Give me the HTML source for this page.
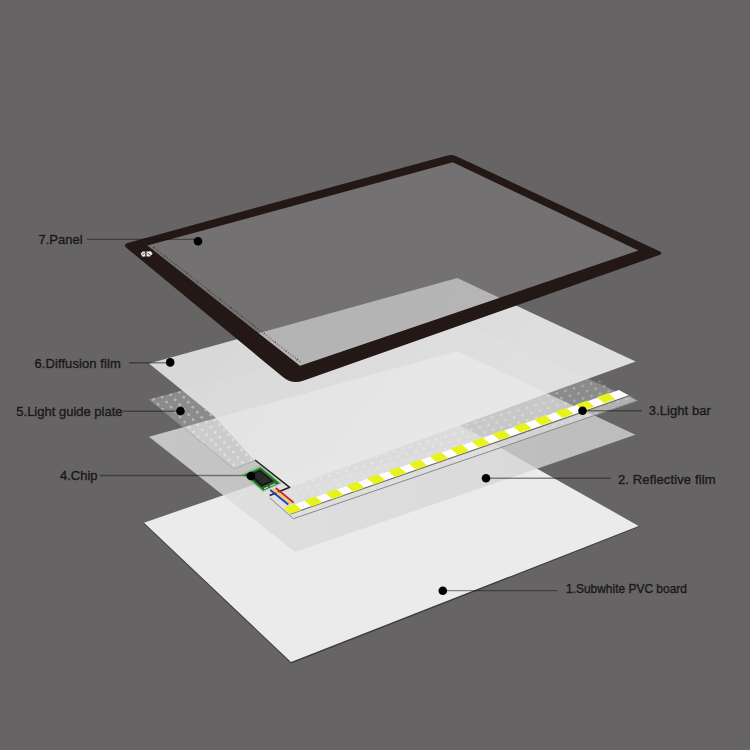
<!DOCTYPE html>
<html><head><meta charset="utf-8">
<style>
html,body{margin:0;padding:0;background:#666465;}
body{width:750px;height:750px;overflow:hidden;font-family:"Liberation Sans",sans-serif;}
svg{display:block}
text{font-family:"Liberation Sans",sans-serif;font-size:13px;fill:#1a1818;stroke:#1a1818;stroke-width:0.45px;stroke-opacity:0.8;}
</style></head><body>
<svg width="750" height="750" viewBox="0 0 750 750">
<defs>
<clipPath id="lgclip"><polygon points="149.3,399.3 182,390.4 215,417 254.7,460.7 234,468.8"/><polygon points="289.7,487.3 595.2,378.5 637.3,400.7 293.5,518.7 269.7,497.8"/></clipPath>
<linearGradient id="dfg" x1="200" y1="300" x2="450" y2="480" gradientUnits="userSpaceOnUse">
<stop offset="0" stop-color="#dcdcdc"/><stop offset="1" stop-color="#e3e3e3"/></linearGradient>
<clipPath id="dfclip"><polygon points="149,363.6 457.3,278 635.7,361.5 290,487 254.7,460.7 215,417"/></clipPath>
<linearGradient id="rfg" x1="150" y1="0" x2="636" y2="0" gradientUnits="userSpaceOnUse"><stop offset="0" stop-color="#dedede"/><stop offset="1" stop-color="#d3d3d3"/></linearGradient>
<filter id="b1" x="0" y="0" width="750" height="750" filterUnits="userSpaceOnUse"><feGaussianBlur stdDeviation="0.7"/></filter>
</defs>
<rect width="750" height="750" fill="#666465"/>

<!-- 1 PVC board -->
<polygon points="143.6,523.6 447,418.8 640,526.6 291.2,663.6" fill="#3e3c3d"/>
<polygon points="144,522.7 447,417.8 638.8,526 291,662" fill="#ebebeb"/>

<!-- 2 reflective film -->
<polygon points="149,436.7 457,351 635.4,434.8 295,552" fill="url(#rfg)" fill-opacity="0.8"/>

<!-- 5 light guide plate -->
<g>
<polygon points="149.3,399.3 452,318 637.3,400.7 293.5,518.7 269.7,497.8 289.7,487.3 255,460 234,468.8" fill="#dadada" fill-opacity="0.33"/>
<!--dots--><g clip-path="url(#lgclip)" filter="url(#b1)" fill="#fff"><g fill-opacity="0.36"><circle cx="153.5" cy="399.5" r="1.45"/><circle cx="158.0" cy="404.5" r="1.45"/><circle cx="162.5" cy="409.5" r="1.45"/><circle cx="162.1" cy="397.1" r="1.45"/><circle cx="166.6" cy="402.1" r="1.45"/><circle cx="171.1" cy="407.1" r="1.45"/><circle cx="175.6" cy="412.1" r="1.45"/><circle cx="180.1" cy="417.1" r="1.45"/><circle cx="184.6" cy="422.1" r="1.45"/><circle cx="189.1" cy="427.1" r="1.45"/><circle cx="193.6" cy="432.1" r="1.45"/><circle cx="198.1" cy="437.1" r="1.45"/><circle cx="202.6" cy="442.1" r="1.45"/><circle cx="207.1" cy="447.1" r="1.45"/><circle cx="170.7" cy="394.7" r="1.45"/><circle cx="175.2" cy="399.7" r="1.45"/><circle cx="179.7" cy="404.7" r="1.45"/><circle cx="184.2" cy="409.7" r="1.45"/><circle cx="188.7" cy="414.7" r="1.45"/><circle cx="193.2" cy="419.7" r="1.45"/><circle cx="197.7" cy="424.7" r="1.45"/><circle cx="202.2" cy="429.7" r="1.45"/><circle cx="206.7" cy="434.7" r="1.45"/><circle cx="211.2" cy="439.7" r="1.45"/><circle cx="215.7" cy="444.7" r="1.45"/><circle cx="220.2" cy="449.7" r="1.45"/><circle cx="224.7" cy="454.7" r="1.45"/><circle cx="229.2" cy="459.7" r="1.45"/><circle cx="233.7" cy="464.7" r="1.45"/><circle cx="179.3" cy="392.3" r="1.45"/><circle cx="183.8" cy="397.3" r="1.45"/><circle cx="188.3" cy="402.3" r="1.45"/><circle cx="192.8" cy="407.3" r="1.45"/><circle cx="197.3" cy="412.3" r="1.45"/><circle cx="201.8" cy="417.3" r="1.45"/><circle cx="206.3" cy="422.3" r="1.45"/><circle cx="210.8" cy="427.3" r="1.45"/><circle cx="215.3" cy="432.3" r="1.45"/><circle cx="219.8" cy="437.3" r="1.45"/><circle cx="224.3" cy="442.3" r="1.45"/><circle cx="228.8" cy="447.3" r="1.45"/><circle cx="233.3" cy="452.3" r="1.45"/><circle cx="237.8" cy="457.3" r="1.45"/><circle cx="242.3" cy="462.3" r="1.45"/><circle cx="205.9" cy="409.9" r="1.45"/><circle cx="210.4" cy="414.9" r="1.45"/><circle cx="214.9" cy="419.9" r="1.45"/><circle cx="219.4" cy="424.9" r="1.45"/><circle cx="223.9" cy="429.9" r="1.45"/><circle cx="228.4" cy="434.9" r="1.45"/><circle cx="232.9" cy="439.9" r="1.45"/><circle cx="237.4" cy="444.9" r="1.45"/><circle cx="241.9" cy="449.9" r="1.45"/><circle cx="246.4" cy="454.9" r="1.45"/><circle cx="250.9" cy="459.9" r="1.45"/></g><g fill-opacity="0.26"><circle cx="273.8" cy="497.3" r="1.45"/><circle cx="278.3" cy="502.3" r="1.45"/><circle cx="282.8" cy="507.3" r="1.45"/><circle cx="287.3" cy="512.3" r="1.45"/><circle cx="291.8" cy="517.3" r="1.45"/><circle cx="282.4" cy="494.9" r="1.45"/><circle cx="286.9" cy="499.9" r="1.45"/><circle cx="291.4" cy="504.9" r="1.45"/><circle cx="295.9" cy="509.9" r="1.45"/><circle cx="300.4" cy="514.9" r="1.45"/><circle cx="291.0" cy="492.5" r="1.45"/><circle cx="295.5" cy="497.5" r="1.45"/><circle cx="300.0" cy="502.5" r="1.45"/><circle cx="304.5" cy="507.5" r="1.45"/><circle cx="309.0" cy="512.5" r="1.45"/><circle cx="295.1" cy="485.1" r="1.45"/><circle cx="299.6" cy="490.1" r="1.45"/><circle cx="304.1" cy="495.1" r="1.45"/><circle cx="308.6" cy="500.1" r="1.45"/><circle cx="313.1" cy="505.1" r="1.45"/><circle cx="317.6" cy="510.1" r="1.45"/><circle cx="303.7" cy="482.7" r="1.45"/><circle cx="308.2" cy="487.7" r="1.45"/><circle cx="312.7" cy="492.7" r="1.45"/><circle cx="317.2" cy="497.7" r="1.45"/><circle cx="321.7" cy="502.7" r="1.45"/><circle cx="326.2" cy="507.7" r="1.45"/><circle cx="312.3" cy="480.3" r="1.45"/><circle cx="316.8" cy="485.3" r="1.45"/><circle cx="321.3" cy="490.3" r="1.45"/><circle cx="325.8" cy="495.3" r="1.45"/><circle cx="330.3" cy="500.3" r="1.45"/><circle cx="334.8" cy="505.3" r="1.45"/><circle cx="320.9" cy="477.9" r="1.45"/><circle cx="325.4" cy="482.9" r="1.45"/><circle cx="329.9" cy="487.9" r="1.45"/><circle cx="334.4" cy="492.9" r="1.45"/><circle cx="338.9" cy="497.9" r="1.45"/><circle cx="329.5" cy="475.5" r="1.45"/><circle cx="334.0" cy="480.5" r="1.45"/><circle cx="338.5" cy="485.5" r="1.45"/><circle cx="343.0" cy="490.5" r="1.45"/><circle cx="347.5" cy="495.5" r="1.45"/><circle cx="338.1" cy="473.1" r="1.45"/><circle cx="342.6" cy="478.1" r="1.45"/><circle cx="347.1" cy="483.1" r="1.45"/><circle cx="351.6" cy="488.1" r="1.45"/><circle cx="356.1" cy="493.1" r="1.45"/><circle cx="346.7" cy="470.7" r="1.45"/><circle cx="351.2" cy="475.7" r="1.45"/><circle cx="355.7" cy="480.7" r="1.45"/><circle cx="360.2" cy="485.7" r="1.45"/><circle cx="364.7" cy="490.7" r="1.45"/><circle cx="355.3" cy="468.3" r="1.45"/><circle cx="359.8" cy="473.3" r="1.45"/><circle cx="364.3" cy="478.3" r="1.45"/><circle cx="368.8" cy="483.3" r="1.45"/><circle cx="373.3" cy="488.3" r="1.45"/><circle cx="363.9" cy="465.9" r="1.45"/><circle cx="368.4" cy="470.9" r="1.45"/><circle cx="372.9" cy="475.9" r="1.45"/><circle cx="377.4" cy="480.9" r="1.45"/><circle cx="381.9" cy="485.9" r="1.45"/><circle cx="372.5" cy="463.5" r="1.45"/><circle cx="377.0" cy="468.5" r="1.45"/><circle cx="381.5" cy="473.5" r="1.45"/><circle cx="386.0" cy="478.5" r="1.45"/><circle cx="390.5" cy="483.5" r="1.45"/><circle cx="376.6" cy="456.1" r="1.45"/><circle cx="381.1" cy="461.1" r="1.45"/><circle cx="385.6" cy="466.1" r="1.45"/><circle cx="390.1" cy="471.1" r="1.45"/><circle cx="394.6" cy="476.1" r="1.45"/><circle cx="399.1" cy="481.1" r="1.45"/><circle cx="385.2" cy="453.7" r="1.45"/><circle cx="389.7" cy="458.7" r="1.45"/><circle cx="394.2" cy="463.7" r="1.45"/><circle cx="398.7" cy="468.7" r="1.45"/><circle cx="403.2" cy="473.7" r="1.45"/><circle cx="407.7" cy="478.7" r="1.45"/><circle cx="393.8" cy="451.3" r="1.45"/><circle cx="398.3" cy="456.3" r="1.45"/><circle cx="402.8" cy="461.3" r="1.45"/><circle cx="407.3" cy="466.3" r="1.45"/><circle cx="411.8" cy="471.3" r="1.45"/><circle cx="416.3" cy="476.3" r="1.45"/><circle cx="402.4" cy="448.9" r="1.45"/><circle cx="406.9" cy="453.9" r="1.45"/><circle cx="411.4" cy="458.9" r="1.45"/><circle cx="415.9" cy="463.9" r="1.45"/><circle cx="420.4" cy="468.9" r="1.45"/><circle cx="424.9" cy="473.9" r="1.45"/><circle cx="411.0" cy="446.5" r="1.45"/><circle cx="415.5" cy="451.5" r="1.45"/><circle cx="420.0" cy="456.5" r="1.45"/><circle cx="424.5" cy="461.5" r="1.45"/><circle cx="429.0" cy="466.5" r="1.45"/><circle cx="433.5" cy="471.5" r="1.45"/><circle cx="419.6" cy="444.1" r="1.45"/><circle cx="424.1" cy="449.1" r="1.45"/><circle cx="428.6" cy="454.1" r="1.45"/><circle cx="433.1" cy="459.1" r="1.45"/><circle cx="437.6" cy="464.1" r="1.45"/><circle cx="428.2" cy="441.7" r="1.45"/><circle cx="432.7" cy="446.7" r="1.45"/><circle cx="437.2" cy="451.7" r="1.45"/><circle cx="441.7" cy="456.7" r="1.45"/><circle cx="446.2" cy="461.7" r="1.45"/><circle cx="436.8" cy="439.3" r="1.45"/><circle cx="441.3" cy="444.3" r="1.45"/><circle cx="445.8" cy="449.3" r="1.45"/><circle cx="450.3" cy="454.3" r="1.45"/><circle cx="454.8" cy="459.3" r="1.45"/><circle cx="445.4" cy="436.9" r="1.45"/><circle cx="449.9" cy="441.9" r="1.45"/><circle cx="454.4" cy="446.9" r="1.45"/><circle cx="458.9" cy="451.9" r="1.45"/><circle cx="463.4" cy="456.9" r="1.45"/><circle cx="454.0" cy="434.5" r="1.45"/><circle cx="458.5" cy="439.5" r="1.45"/><circle cx="463.0" cy="444.5" r="1.45"/><circle cx="467.5" cy="449.5" r="1.45"/><circle cx="472.0" cy="454.5" r="1.45"/><circle cx="458.1" cy="427.1" r="1.45"/><circle cx="462.6" cy="432.1" r="1.45"/><circle cx="467.1" cy="437.1" r="1.45"/><circle cx="471.6" cy="442.1" r="1.45"/><circle cx="476.1" cy="447.1" r="1.45"/><circle cx="480.6" cy="452.1" r="1.45"/><circle cx="466.7" cy="424.7" r="1.45"/><circle cx="471.2" cy="429.7" r="1.45"/><circle cx="475.7" cy="434.7" r="1.45"/><circle cx="480.2" cy="439.7" r="1.45"/><circle cx="484.7" cy="444.7" r="1.45"/><circle cx="489.2" cy="449.7" r="1.45"/><circle cx="475.3" cy="422.3" r="1.45"/><circle cx="479.8" cy="427.3" r="1.45"/><circle cx="484.3" cy="432.3" r="1.45"/><circle cx="488.8" cy="437.3" r="1.45"/><circle cx="493.3" cy="442.3" r="1.45"/><circle cx="497.8" cy="447.3" r="1.45"/><circle cx="483.9" cy="419.9" r="1.45"/><circle cx="488.4" cy="424.9" r="1.45"/><circle cx="492.9" cy="429.9" r="1.45"/><circle cx="497.4" cy="434.9" r="1.45"/><circle cx="501.9" cy="439.9" r="1.45"/><circle cx="506.4" cy="444.9" r="1.45"/><circle cx="492.5" cy="417.5" r="1.45"/><circle cx="497.0" cy="422.5" r="1.45"/><circle cx="501.5" cy="427.5" r="1.45"/><circle cx="506.0" cy="432.5" r="1.45"/><circle cx="510.5" cy="437.5" r="1.45"/><circle cx="515.0" cy="442.5" r="1.45"/><circle cx="501.1" cy="415.1" r="1.45"/><circle cx="505.6" cy="420.1" r="1.45"/><circle cx="510.1" cy="425.1" r="1.45"/><circle cx="514.6" cy="430.1" r="1.45"/><circle cx="519.1" cy="435.1" r="1.45"/><circle cx="523.6" cy="440.1" r="1.45"/><circle cx="509.7" cy="412.7" r="1.45"/><circle cx="514.2" cy="417.7" r="1.45"/><circle cx="518.7" cy="422.7" r="1.45"/><circle cx="523.2" cy="427.7" r="1.45"/><circle cx="527.7" cy="432.7" r="1.45"/><circle cx="518.3" cy="410.3" r="1.45"/><circle cx="522.8" cy="415.3" r="1.45"/><circle cx="527.3" cy="420.3" r="1.45"/><circle cx="531.8" cy="425.3" r="1.45"/><circle cx="536.3" cy="430.3" r="1.45"/><circle cx="526.9" cy="407.9" r="1.45"/><circle cx="531.4" cy="412.9" r="1.45"/><circle cx="535.9" cy="417.9" r="1.45"/><circle cx="540.4" cy="422.9" r="1.45"/><circle cx="544.9" cy="427.9" r="1.45"/><circle cx="535.5" cy="405.5" r="1.45"/><circle cx="540.0" cy="410.5" r="1.45"/><circle cx="544.5" cy="415.5" r="1.45"/><circle cx="549.0" cy="420.5" r="1.45"/><circle cx="553.5" cy="425.5" r="1.45"/><circle cx="539.6" cy="398.1" r="1.45"/><circle cx="544.1" cy="403.1" r="1.45"/><circle cx="548.6" cy="408.1" r="1.45"/><circle cx="553.1" cy="413.1" r="1.45"/><circle cx="557.6" cy="418.1" r="1.45"/><circle cx="562.1" cy="423.1" r="1.45"/><circle cx="548.2" cy="395.7" r="1.45"/><circle cx="552.7" cy="400.7" r="1.45"/><circle cx="557.2" cy="405.7" r="1.45"/><circle cx="561.7" cy="410.7" r="1.45"/><circle cx="566.2" cy="415.7" r="1.45"/><circle cx="570.7" cy="420.7" r="1.45"/><circle cx="556.8" cy="393.3" r="1.45"/><circle cx="561.3" cy="398.3" r="1.45"/><circle cx="565.8" cy="403.3" r="1.45"/><circle cx="570.3" cy="408.3" r="1.45"/><circle cx="574.8" cy="413.3" r="1.45"/><circle cx="579.3" cy="418.3" r="1.45"/><circle cx="565.4" cy="390.9" r="1.45"/><circle cx="569.9" cy="395.9" r="1.45"/><circle cx="574.4" cy="400.9" r="1.45"/><circle cx="578.9" cy="405.9" r="1.45"/><circle cx="583.4" cy="410.9" r="1.45"/><circle cx="587.9" cy="415.9" r="1.45"/><circle cx="574.0" cy="388.5" r="1.45"/><circle cx="578.5" cy="393.5" r="1.45"/><circle cx="583.0" cy="398.5" r="1.45"/><circle cx="587.5" cy="403.5" r="1.45"/><circle cx="592.0" cy="408.5" r="1.45"/><circle cx="596.5" cy="413.5" r="1.45"/><circle cx="582.6" cy="386.1" r="1.45"/><circle cx="587.1" cy="391.1" r="1.45"/><circle cx="591.6" cy="396.1" r="1.45"/><circle cx="596.1" cy="401.1" r="1.45"/><circle cx="600.6" cy="406.1" r="1.45"/><circle cx="605.1" cy="411.1" r="1.45"/><circle cx="591.2" cy="383.7" r="1.45"/><circle cx="595.7" cy="388.7" r="1.45"/><circle cx="600.2" cy="393.7" r="1.45"/><circle cx="604.7" cy="398.7" r="1.45"/><circle cx="609.2" cy="403.7" r="1.45"/><circle cx="613.7" cy="408.7" r="1.45"/><circle cx="599.8" cy="381.3" r="1.45"/><circle cx="604.3" cy="386.3" r="1.45"/><circle cx="608.8" cy="391.3" r="1.45"/><circle cx="613.3" cy="396.3" r="1.45"/><circle cx="617.8" cy="401.3" r="1.45"/><circle cx="621.9" cy="393.9" r="1.45"/><circle cx="626.4" cy="398.9" r="1.45"/></g></g><!--/dots-->

<polyline points="149.3,399.3 234,468.8 255,460.6" fill="none" stroke="#9a9a9a" stroke-width="0.6"/>
</g>

<!-- 3 light bar -->
<g id="lightbar">
<polygon points="272.5,495.5 628.6,395.2 637.3,400.7 293.5,518.7 269.7,497.8" fill="#e0e0e0" fill-opacity="0.45"/>
<polyline points="637.3,400.7 293.5,518.7 269.7,497.8" fill="none" stroke="#8a8a8a" stroke-width="1"/>
<line x1="290.6" y1="513.9" x2="628.6" y2="395.9" stroke="#6e6e6e" stroke-width="1.2"/>
<polygon points="284.0,508.3 619.0,390.0 628.6,395.2 290.6,513.2" fill="#fff"/>
<polygon points="284.0,508.0 294.6,504.3 301.2,509.8 290.6,513.5" fill="#e8f21c" stroke="#e8f21c" stroke-width="0.8" stroke-linejoin="round"/>
<polygon points="304.9,500.6 315.5,496.9 322.1,502.4 311.5,506.1" fill="#e8f21c" stroke="#e8f21c" stroke-width="0.8" stroke-linejoin="round"/>
<polygon points="325.8,493.2 336.4,489.5 343.0,495.0 332.4,498.7" fill="#e8f21c" stroke="#e8f21c" stroke-width="0.8" stroke-linejoin="round"/>
<polygon points="346.7,485.9 357.3,482.1 363.9,487.6 353.3,491.4" fill="#e8f21c" stroke="#e8f21c" stroke-width="0.8" stroke-linejoin="round"/>
<polygon points="367.6,478.5 378.2,474.7 384.8,480.2 374.2,484.0" fill="#e8f21c" stroke="#e8f21c" stroke-width="0.8" stroke-linejoin="round"/>
<polygon points="388.5,471.1 399.1,467.4 405.7,472.9 395.1,476.6" fill="#e8f21c" stroke="#e8f21c" stroke-width="0.8" stroke-linejoin="round"/>
<polygon points="409.4,463.7 420.0,460.0 426.6,465.5 416.0,469.2" fill="#e8f21c" stroke="#e8f21c" stroke-width="0.8" stroke-linejoin="round"/>
<polygon points="430.3,456.4 440.9,452.6 447.5,458.1 436.9,461.9" fill="#e8f21c" stroke="#e8f21c" stroke-width="0.8" stroke-linejoin="round"/>
<polygon points="451.2,449.0 461.8,445.2 468.4,450.7 457.8,454.5" fill="#e8f21c" stroke="#e8f21c" stroke-width="0.8" stroke-linejoin="round"/>
<polygon points="472.1,441.6 482.7,437.9 489.3,443.4 478.7,447.1" fill="#e8f21c" stroke="#e8f21c" stroke-width="0.8" stroke-linejoin="round"/>
<polygon points="493.0,434.2 503.6,430.5 510.2,436.0 499.6,439.7" fill="#e8f21c" stroke="#e8f21c" stroke-width="0.8" stroke-linejoin="round"/>
<polygon points="513.9,426.8 524.5,423.1 531.1,428.6 520.5,432.3" fill="#e8f21c" stroke="#e8f21c" stroke-width="0.8" stroke-linejoin="round"/>
<polygon points="534.8,419.5 545.4,415.7 552.0,421.2 541.4,425.0" fill="#e8f21c" stroke="#e8f21c" stroke-width="0.8" stroke-linejoin="round"/>
<polygon points="555.7,412.1 566.3,408.3 572.9,413.8 562.3,417.6" fill="#e8f21c" stroke="#e8f21c" stroke-width="0.8" stroke-linejoin="round"/>
<polygon points="576.6,404.7 587.2,401.0 593.8,406.5 583.2,410.2" fill="#e8f21c" stroke="#e8f21c" stroke-width="0.8" stroke-linejoin="round"/>
<polygon points="597.5,397.3 608.1,393.6 614.7,399.1 604.1,402.8" fill="#e8f21c" stroke="#e8f21c" stroke-width="0.8" stroke-linejoin="round"/>
</g>

<!-- 6 diffusion film -->
<polygon points="149,363.6 457.3,278 635.7,361.5 290,487 254.7,460.7 215,417" fill="url(#dfg)" fill-opacity="0.96"/>
<polygon points="149,436.7 457,351 635.4,434.8 295,552" fill="#fff" fill-opacity="0.2" clip-path="url(#dfclip)"/>

<!-- 4 chip -->
<g>
<polyline points="255,460 289.7,487.3 269.7,495.5" fill="none" stroke="#222" stroke-width="1.5" stroke-linejoin="round"/>
<line x1="275.7" y1="488" x2="293.7" y2="502.7" stroke="#d8232a" stroke-width="1.9"/>
<line x1="273" y1="489" x2="291" y2="504" stroke="#e8d44a" stroke-width="1.9"/>
<line x1="270.3" y1="490" x2="288.3" y2="504.5" stroke="#2b35c8" stroke-width="1.9"/>
<polygon points="241.2,474 260.3,465.6 281.6,483.3 263,492" fill="#74c874" fill-opacity="0.75"/>
<polygon points="244.5,474.6 260.6,467.6 279.6,483.2 263.2,490.4" fill="#2a6a2e"/>
<polygon points="248.3,474.7 260.3,470 273.7,481.3 261.7,486.7" fill="#161616"/>
<polygon points="252,474.6 260,471.4 270.5,480.6 262,484.4" fill="#2b2b2b"/>
<line x1="264" y1="488.8" x2="268" y2="487" stroke="#cfd8cf" stroke-width="1.2"/>
<line x1="270" y1="486.2" x2="275.5" y2="483.8" stroke="#cfd8cf" stroke-width="1.2"/>
</g>

<!-- 7 panel -->
<g>
<polygon points="147.3,245.3 452.7,162 638.7,250.4 300,366" fill="#838182" fill-opacity="0.43"/>
<line x1="153.5" y1="247.2" x2="301.5" y2="362.8" stroke="#2a2424" stroke-opacity="0.55" stroke-width="1.1" stroke-dasharray="1.2 1.6"/><line x1="153.5" y1="247.2" x2="301.5" y2="362.8" stroke="#2a2424" stroke-opacity="0.5" stroke-width="2.4" stroke-dasharray="0.8 13.2"/>
<path fill-rule="evenodd" fill="#231815" d="M126.6,247.9 Q122.4,244.3 127.6,242.9 L447.5,155.4 Q452,154.2 455.8,156 L659.5,251.3 Q663.2,253.2 659.4,254.9 L303.1,380.8 Q291.8,384.7 282.6,376.8 Z M147.3,245.5 L452.7,162.3 L638.5,250.5 L300,365.8 Z"/>
<polygon points="140.6,253.8 142.6,251.6 145.2,251.4 145.4,256.6 142.4,256.8" fill="#e9e9e9"/><polygon points="146.4,251.6 150.6,251.2 152.6,253.6 150,256.6 146.6,256.6" fill="#efefef"/><line x1="147.5" y1="253" x2="150.6" y2="255.4" stroke="#3a3030" stroke-width="0.9"/><line x1="141.8" y1="254.6" x2="144.6" y2="253.2" stroke="#4a4040" stroke-width="0.8"/>
</g>

<!-- leader lines and dots -->
<g stroke="#141212" stroke-opacity="0.47" stroke-width="1.35">
<line x1="87" y1="239.4" x2="197" y2="239.4"/>
<line x1="129" y1="362.7" x2="168" y2="362.7"/>
<line x1="123" y1="411.2" x2="178" y2="411.2"/>
<line x1="100" y1="475.5" x2="250" y2="475.5"/>
<line x1="585" y1="410.7" x2="642" y2="410.7"/>
<line x1="488" y1="478.2" x2="611" y2="478.2"/>
<line x1="445" y1="590.6" x2="558" y2="590.6"/>
</g>
<g fill="#000">
<circle cx="198" cy="241.2" r="4.3"/>
<circle cx="170.2" cy="362.4" r="4.3"/>
<circle cx="180.5" cy="411" r="4.3"/>
<circle cx="251" cy="476" r="4.3"/>
<circle cx="582.5" cy="410.7" r="4.3"/>
<circle cx="486" cy="478.2" r="4.3"/>
<circle cx="442.8" cy="590.8" r="4.3"/>
</g>

<text x="38.5" y="243.5">7.Panel</text>
<text x="34.5" y="367.5" letter-spacing="0.08">6.Diffusion film</text>
<text x="16.3" y="416">5.Light guide plate</text>
<text x="60" y="480">4.Chip</text>
<text x="648.7" y="415.2" letter-spacing="0.08">3.Light bar</text>
<text x="618" y="483.5" letter-spacing="0.13">2. Reflective film</text>
<text x="0" y="0" font-size="13.5" transform="translate(566 593.2) scale(0.92 1)">1.Subwhite PVC board</text>
</svg>
</body></html>
